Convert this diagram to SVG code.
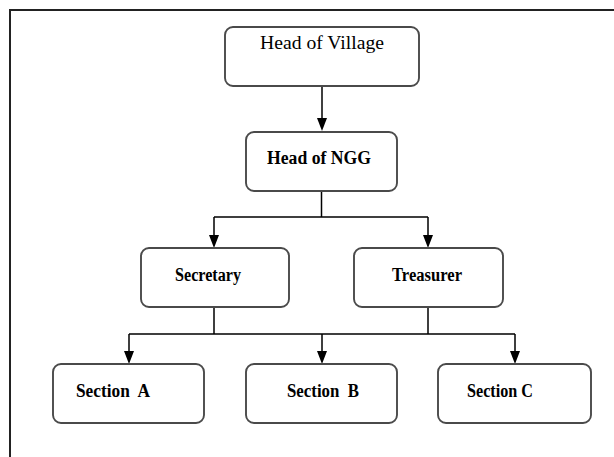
<svg xmlns="http://www.w3.org/2000/svg" width="614" height="457" viewBox="0 0 614 457">
<style>
.box{fill:#fff;stroke:#4a4a4a;stroke-width:1.9}
.t{font-family:"Liberation Serif","Times New Roman",serif;fill:#000}
.b{font-weight:bold;font-size:18px}
.r{font-size:19px}
.c{fill:none;stroke:#000;stroke-width:1.5}
</style>
<rect width="614" height="457" fill="#fff"/>
<path d="M10,457 L10,10 L614,10" fill="none" stroke="#222" stroke-width="2"/>
<g id="connectors">
<path class="c" d="M322,86 L322,118"/>
<path d="M317,118 L327,118 L322,131 Z" fill="#000"/>
<path class="c" d="M321.5,191 L321.5,217 M214,217 L428,217 M214,217 L214,235 M428,217 L428,235"/>
<path d="M209,235 L219,235 L214,248 Z M423,235 L433,235 L428,248 Z" fill="#000"/>
<path class="c" d="M214,307 L214,334 M428,307 L428,334 M129,334 L515,334 M129,334 L129,351 M322,334 L322,351 M515,334 L515,351"/>
<path d="M124,351 L134,351 L129,364 Z M317,351 L327,351 L322,364 Z M510,351 L520,351 L515,364 Z" fill="#000"/>
</g>
<g id="head-village">
<rect class="box" x="225" y="27" width="194" height="59" rx="8"/>
<text class="t r" x="260" y="49" textLength="124" lengthAdjust="spacingAndGlyphs">Head of Village</text>
</g>
<g id="head-ngg">
<rect class="box" x="246" y="132" width="151" height="59" rx="8"/>
<text class="t b" x="267" y="164" textLength="104" lengthAdjust="spacingAndGlyphs">Head of NGG</text>
</g>
<g id="secretary">
<rect class="box" x="141" y="248" width="148" height="59" rx="8"/>
<text class="t b" x="175" y="281" textLength="66" lengthAdjust="spacingAndGlyphs">Secretary</text>
</g>
<g id="treasurer">
<rect class="box" x="354" y="248" width="149" height="59" rx="8"/>
<text class="t b" x="392" y="281" textLength="70" lengthAdjust="spacingAndGlyphs">Treasurer</text>
</g>
<g id="section-a">
<rect class="box" x="53" y="364" width="151" height="59" rx="8"/>
<text class="t b" x="76" y="397" textLength="74" lengthAdjust="spacingAndGlyphs" xml:space="preserve">Section  A</text>
</g>
<g id="section-b">
<rect class="box" x="246" y="364" width="151" height="59" rx="8"/>
<text class="t b" x="287" y="397" textLength="72" lengthAdjust="spacingAndGlyphs" xml:space="preserve">Section  B</text>
</g>
<g id="section-c">
<rect class="box" x="438" y="364" width="153" height="59" rx="8"/>
<text class="t b" x="467" y="397" textLength="66" lengthAdjust="spacingAndGlyphs">Section C</text>
</g>
</svg>
